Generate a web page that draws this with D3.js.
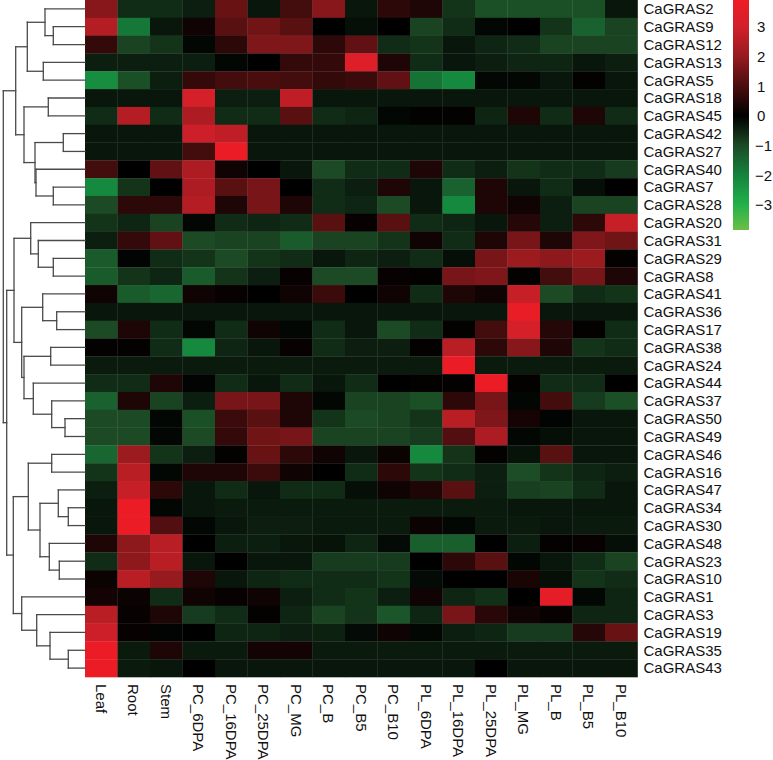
<!DOCTYPE html>
<html>
<head>
<meta charset="utf-8">
<script src="https://cdn.jsdelivr.net/npm/d3@7"></script>
<style>
  body { margin: 0; background: #fff; }
  text { font-family: "Liberation Sans", Arial, Helvetica, sans-serif; fill: #111; }
</style>
</head>
<body>
<script>
const W = 773, H = 760;

let row_names = ['CaGRAS2','CaGRAS9','CaGRAS12','CaGRAS13','CaGRAS5','CaGRAS18','CaGRAS45','CaGRAS42',
    'CaGRAS27','CaGRAS40','CaGRAS7','CaGRAS28','CaGRAS20','CaGRAS31','CaGRAS29','CaGRAS8','CaGRAS41',
    'CaGRAS36','CaGRAS17','CaGRAS38','CaGRAS24','CaGRAS44','CaGRAS37','CaGRAS50','CaGRAS49','CaGRAS46',
    'CaGRAS16','CaGRAS47','CaGRAS34','CaGRAS30','CaGRAS48','CaGRAS23','CaGRAS10','CaGRAS1','CaGRAS3',
    'CaGRAS19','CaGRAS35','CaGRAS43']

let col_names = ['Leaf','Root','Stem','PC_6DPA','PC_16DPA','PC_25DPA','PC_MG','PC_B','PC_B5','PC_B10',
    'PL_6DPA','PL_16DPA','PL_25DPA','PL_MG','PL_B','PL_B5','PL_B10']

// one row per gene, columns in col_names order
let values = [
    [ 1.8,-0.6,-0.6,-0.4, 1.4,-0.3, 0.9, 1.8,-0.3, 0.6, 0.4,-0.7,-1.1,-1.1,-1.1,-1.1,-0.3],
    [ 2.5,-1.8,-0.3, 0.2, 1.2, 1.5, 1.2, 0.0,-0.2, 0.0,-0.9,-0.6,-0.1, 0.0,-0.7,-1.4,-0.9],
    [ 0.7,-0.9,-0.7,-0.1, 0.6, 1.7, 1.7, 0.6, 1.3,-0.6,-0.7,-0.3,-0.5,-0.6,-0.9,-0.9,-0.9],
    [-0.4,-0.4,-0.4,-0.4,-0.1, 0.0, 0.7, 0.7, 3.4, 0.4,-0.6,-0.3,-0.4,-0.5,-0.5,-0.3,-0.4],
    [-2.2,-1.1,-0.4, 0.7, 0.9, 1.0, 0.9, 0.7, 0.8, 1.3,-1.7,-2.1,-0.1,-0.1,-0.3, 0.05,-0.3],
    [-0.3,-0.3,-0.3, 3.1,-0.4,-0.4, 2.7,-0.3,-0.3,-0.3,-0.3,-0.3,-0.3,-0.3,-0.3,-0.3,-0.3],
    [-0.6, 2.5,-0.6, 2.4,-0.6,-0.6, 1.2,-0.6,-0.5,-0.1, 0.05, 0.05,-0.5, 0.4,-0.6, 0.4,-0.6],
    [-0.3,-0.3,-0.3, 2.9, 2.7,-0.3,-0.3,-0.3,-0.3,-0.3,-0.3,-0.3,-0.3,-0.3,-0.3,-0.3,-0.3],
    [-0.3,-0.3,-0.3, 0.9, 3.8,-0.3,-0.3,-0.3,-0.3,-0.3,-0.3,-0.3,-0.3,-0.3,-0.3,-0.3,-0.3],
    [ 0.9, 0.0, 1.3, 2.4, 0.2, 0.0,-0.3,-1.0,-0.6,-0.6, 0.4,-0.6,-0.4,-0.7,-0.6,-0.6,-0.8],
    [-2.1,-0.7, 0.0, 2.4, 1.2, 1.6, 0.0,-0.6,-0.4, 0.4,-0.3,-1.4, 0.4,-0.3,-0.6,-0.2, 0.0],
    [-1.0, 0.6, 0.6, 2.5, 0.4, 1.6, 0.4,-0.6,-0.5,-1.0,-0.3,-2.1, 0.4, 0.2,-0.4,-0.9,-0.9],
    [-0.7,-0.5,-0.9,-0.1,-0.6,-0.5,-0.6, 1.2, 0.1, 1.2,-0.6,-0.5,-0.3, 0.5,-0.4, 0.6, 2.8],
    [-0.4, 0.7, 1.3,-1.0,-0.9,-0.9,-1.3,-0.9,-0.9,-0.7, 0.2,-0.6, 0.4, 1.6, 0.4, 1.7, 1.5],
    [-1.3,-0.05,-0.6,-0.7,-1.0,-0.7,-0.6,-0.3,-0.5,-0.4,-0.6,-0.2, 1.6, 2.1, 1.9, 2.1, 0.05],
    [-1.3,-0.7,-0.5,-1.3,-0.7,-0.4, 0.1,-1.0,-1.0, 0.1, 0.05, 1.6, 1.7, 0.05, 0.9, 1.6, 0.4],
    [ 0.2,-1.3,-1.5, 0.2, 0.1, 0.0, 0.2, 0.8, 0.0, 0.2,-0.6, 0.4, 0.2, 2.8,-1.0,-0.6,-0.7],
    [-0.3,-0.3,-0.3,-0.3,-0.3,-0.3,-0.3,-0.3,-0.3,-0.3,-0.3,-0.3,-0.3, 3.7,-0.3,-0.3,-0.3],
    [-1.0, 0.4,-0.6,-0.1,-0.6, 0.2,-0.1,-0.6,-0.3,-1.0,-0.6, 0.05, 0.9, 3.1, 0.5, 0.05,-0.6],
    [ 0.05, 0.05,-0.6,-2.1,-0.5,-0.3, 0.1,-0.6,-0.4,-0.4, 0.05, 2.6, 0.6, 1.8, 0.4,-0.7,-0.6],
    [-0.35,-0.35,-0.35,-0.35,-0.35,-0.35,-0.35,-0.35,-0.35,-0.35,-0.35, 3.8,-0.35,-0.35,-0.35,-0.35,-0.35],
    [-0.6,-0.6, 0.4,-0.05,-0.6,-0.3,-0.6,-0.3,-0.6, 0.0, 0.05, 0.05, 3.8, 0.05,-0.6,-0.6, 0.0],
    [-1.4, 0.4,-0.9,-0.4, 1.6, 1.6, 0.4,-0.1,-0.9,-0.9,-1.1, 0.6, 1.6,-0.1, 0.9,-0.8,-1.1],
    [-1.0,-1.0,-0.1,-1.1, 0.8, 1.2, 0.4,-0.7,-1.0,-0.9,-0.7, 2.6, 1.7, 0.3,-0.05,-0.3,-0.3],
    [-1.0,-1.0,-0.1,-1.0, 0.7, 1.5, 1.6,-0.9,-0.9,-0.9,-0.8, 1.1, 2.4,-0.1,-0.2,-0.3,-0.3],
    [-1.5, 2.1,-0.7,-0.4, 0.05, 1.4, 0.6, 0.2,-0.3, 0.15,-2.1,-0.7, 0.05,-0.25, 1.2,-0.3,-0.3],
    [-0.7, 2.6,-0.1, 0.4, 0.4, 0.8, 0.2, 0.0,-0.6, 0.6,-0.7,-0.6,-0.4,-1.05,-0.7,-0.5,-0.4],
    [-0.4, 2.8, 0.6,-0.3,-0.6,-0.3,-0.6,-0.6,-0.2, 0.2, 0.4, 1.2,-0.4,-0.85,-0.9,-0.6,-0.3],
    [-0.3, 3.8,-0.1,-0.3,-0.35,-0.35,-0.35,-0.35,-0.35,-0.35,-0.35,-0.35,-0.35,-0.3,-0.3,-0.3,-0.3],
    [-0.3, 3.8, 1.1,-0.1,-0.3,-0.4,-0.4,-0.35,-0.35,-0.35, 0.15,-0.1,-0.35,-0.35,-0.3,-0.35,-0.35],
    [ 0.4, 1.9, 2.6, 0.0,-0.4,-0.4,-0.3,-0.25,-0.5,-0.15,-1.35,-1.35, 0.0,-0.4, 0.05, 0.1,-0.2],
    [-0.6, 1.9, 2.6,-0.3, 0.0,-0.3,-0.3,-0.8,-0.8,-0.8, 0.0, 0.6, 1.2,-0.1,-0.3,-0.6,-0.9],
    [ 0.15, 2.6, 2.0, 0.4,-0.3,-0.5,-0.6,-0.6,-0.6,-0.7,-0.15, 0.0, 0.0, 0.35,-0.2,-0.7,-0.6],
    [ 0.25, 0.15,-0.6, 0.2, 0.1, 0.2,-0.4,-0.6,-0.7,-0.4, 0.2,-0.5,-0.65, 0.0, 3.6,-0.1,-0.5],
    [ 2.6, 0.1, 0.4,-0.8,-0.6, 0.05,-0.5,-0.9,-0.7,-1.2,-0.5, 1.6, 0.55, 0.2, 0.1,-0.5,-0.5],
    [ 2.9, 0.1,-0.05, 0.0,-0.5,-0.5,-0.4,-0.45,-0.15, 0.2,-0.1,-0.4,-0.5,-0.8,-0.8, 0.5, 1.4],
    [ 3.8,-0.35, 0.4,-0.35,-0.35, 0.25, 0.25,-0.35,-0.35,-0.35,-0.35,-0.35,-0.35,-0.35,-0.35,-0.35,-0.35],
    [ 3.8,-0.35,-0.3, 0.0,-0.3,-0.3,-0.3,-0.3,-0.3,-0.3,-0.3,-0.3, 0.0,-0.3,-0.3,-0.3,-0.3]
]

// row clustering: [merge height, left, right], leaves are row indices
let row_tree = [81.7,
    [69.3,
        [57.7, [40, 0, [31.7, 1, 2]], [41.7, 3, 4]],
        [61, [36.7, 5, 6], [50, [21.7, 7, 8], [49, 9, [31.7, 10, 11]]]]],
    [78.3,
        [71, [54.3, 12, [46.7, 13, [31.7, 14, 15]]],
            [63.3, [42.3, 16, [28.3, 17, 18]],
                [61, [34.3, 19, 20], [51.7, 21, [33.3, 22, [20, 23, 24]]]]]],
        [71.7, [56.7, [33.3, 25, 26], [45, [26.7, 27, [16.7, 28, 29]], [35.7, 30, [25.7, 31, 32]]]],
            [63.3, 33, [48.3, 34, [35, 35, [16.7, 36, 37]]]]]]]

let legend_ticks = [3, 2, 1, 0, -1, -2, -3]
let color_stops = [-3.84, -3, -2, -1, 0, 1, 2, 3, 3.9]
let color_range = ['#6cbe45', '#22b14b', '#14843d', '#1c4a25', '#000000', '#4a0d0e', '#961a1e', '#d2202a', '#ee1c25']

let color = d3.scaleLinear().domain(color_stops).range(color_range)

let hm = {left: 85, right: 637.5, top: 0, bottom: 677}

let svg = d3.select('body').append('svg')
    .attr('width', W)
    .attr('height', H)

let x_scale = d3.scaleBand().domain(col_names).range([hm.left, hm.right])
let y_scale = d3.scaleBand().domain(d3.range(row_names.length)).range([hm.top, hm.bottom])

let cells = []
values.forEach((row, i) => row.forEach((v, j) => cells.push({r: i, c: col_names[j], v: v})))

svg.append('g')
    .selectAll('rect')
    .data(cells)
    .enter().append('rect')
    .attr('x', d => x_scale(d.c))
    .attr('y', d => y_scale(d.r))
    .attr('width', x_scale.bandwidth() + 0.3)
    .attr('height', y_scale.bandwidth() + 0.3)
    .attr('fill', d => color(d.v))

// row labels
svg.append('g')
    .selectAll('text')
    .data(row_names)
    .enter().append('text')
    .attr('x', hm.right + 6)
    .attr('y', (d, i) => y_scale(i) + y_scale.bandwidth() / 2)
    .attr('dy', '0.36em')
    .style('font-size', '15px')
    .text(d => d)

// column labels, rotated
svg.append('g')
    .selectAll('text')
    .data(col_names)
    .enter().append('text')
    .attr('transform', d => `translate(${x_scale(d) + x_scale.bandwidth() / 2}, ${hm.bottom + 7}) rotate(90)`)
    .attr('dy', '0.36em')
    .style('font-size', '15px')
    .text(d => d)

// dendrogram
let root = d3.hierarchy(row_tree, d => Array.isArray(d) ? d.slice(1) : null)
let h_scale = d3.scaleLinear().domain([0, row_tree[0]]).range([hm.left, 3.3])

function place(node) {
    if (!node.children) {
        node.py = y_scale(node.data) + y_scale.bandwidth() / 2
        node.px = h_scale(0)
    } else {
        node.children.forEach(place)
        node.py = (node.children[0].py + node.children[1].py) / 2
        node.px = h_scale(node.data[0])
    }
}
place(root)

let segs = []
root.each(n => {
    if (!n.children) return
    let [a, b] = n.children
    segs.push([n.px, a.py, n.px, b.py])
    segs.push([n.px, a.py, a.px, a.py])
    segs.push([n.px, b.py, b.px, b.py])
})

svg.append('g')
    .selectAll('line')
    .data(segs)
    .enter().append('line')
    .attr('x1', d => d[0]).attr('y1', d => d[1])
    .attr('x2', d => d[2]).attr('y2', d => d[3])
    .attr('stroke', '#4a4a4a')
    .attr('stroke-width', 1.3)
    .attr('stroke-linecap', 'square')

// colour key
let key = {x: 733, w: 16, top: 0, bottom: 230}
let key_scale = d3.scaleLinear().domain([color_stops[0], color_stops[color_stops.length - 1]]).range([key.bottom, key.top])

let grad = svg.append('defs').append('linearGradient')
    .attr('id', 'keygrad')
    .attr('x1', 0).attr('y1', 1).attr('x2', 0).attr('y2', 0)
grad.selectAll('stop')
    .data(color_stops)
    .enter().append('stop')
    .attr('offset', d => (d - color_stops[0]) / (color_stops[color_stops.length - 1] - color_stops[0]))
    .attr('stop-color', d => color(d))

svg.append('rect')
    .attr('x', key.x)
    .attr('y', key.top)
    .attr('width', key.w)
    .attr('height', key.bottom - key.top)
    .attr('fill', 'url(#keygrad)')

svg.append('g')
    .selectAll('text')
    .data(legend_ticks)
    .enter().append('text')
    .attr('x', d => d < 0 ? key.x + key.w + 6 : key.x + key.w + 8)
    .attr('y', d => key_scale(d))
    .attr('dy', '0.36em')
    .style('font-size', '15px')
    .text(d => d < 0 ? '\u2212' + Math.abs(d) : d)
</script>
</body>
</html>
